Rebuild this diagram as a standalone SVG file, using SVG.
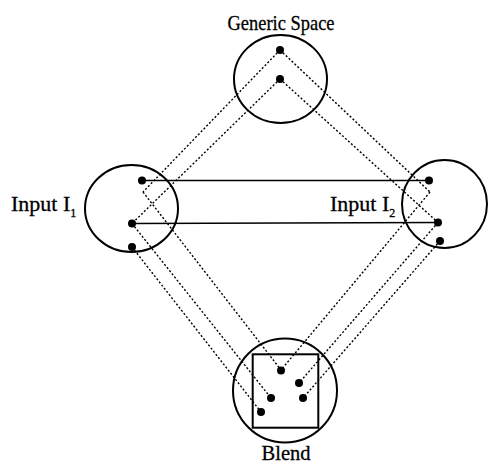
<svg xmlns="http://www.w3.org/2000/svg" width="488" height="465" viewBox="0 0 488 465">
<style>
.ring{fill:none;stroke:#000;stroke-width:2}
.dot{fill:#000}
.solid{stroke:#000;stroke-width:1.6;fill:none}
.dotted{stroke:#000;stroke-width:1.4;stroke-dasharray:2 2;fill:none}
.lbl{font-family:"Liberation Serif","Times New Roman",serif;font-size:22px;fill:#000;stroke:#000;stroke-width:0.3}
.sub{font-size:12px}
</style>
<rect width="488" height="465" fill="#fff"/>
<g id="connectors">
<line class="solid" x1="142" y1="180.5" x2="429" y2="180.5"/>
<line class="solid" x1="132" y1="223.5" x2="438" y2="222.5"/>
<line class="dotted" x1="280" y1="50" x2="143" y2="192"/>
<line class="dotted" x1="143" y1="192" x2="281" y2="370"/>
<line class="dotted" x1="280" y1="50" x2="430" y2="192"/>
<line class="dotted" x1="430" y1="192" x2="281" y2="370"/>
<line class="dotted" x1="280" y1="79" x2="132" y2="223.5"/>
<line class="dotted" x1="280" y1="79" x2="438" y2="222.5"/>
<line class="dotted" x1="132" y1="223.5" x2="271" y2="398"/>
<line class="dotted" x1="132" y1="247" x2="261" y2="412"/>
<line class="dotted" x1="438" y1="222.5" x2="299" y2="383"/>
<line class="dotted" x1="440" y1="241" x2="303" y2="398"/>
</g>
<g id="generic-space">
<ellipse class="ring" cx="280.5" cy="79" rx="46.5" ry="44"/>
<circle class="dot" cx="280" cy="50" r="4"/>
<circle class="dot" cx="280" cy="79" r="4"/>
<text class="lbl" x="281" y="30" text-anchor="middle" textLength="107" lengthAdjust="spacingAndGlyphs">Generic Space</text>
</g>
<g id="input-1">
<ellipse class="ring" cx="131.5" cy="208.5" rx="46.5" ry="43.5"/>
<circle class="dot" cx="142" cy="180.5" r="4"/>
<circle class="dot" cx="132" cy="223.5" r="4"/>
<circle class="dot" cx="132" cy="247" r="4"/>
<text class="lbl" x="11" y="210.5">Input I<tspan class="sub" dy="6">1</tspan></text>
</g>
<g id="input-2">
<ellipse class="ring" cx="444.5" cy="204" rx="42.5" ry="44"/>
<circle class="dot" cx="429" cy="180.5" r="4"/>
<circle class="dot" cx="438" cy="222.5" r="4"/>
<circle class="dot" cx="440" cy="241" r="4"/>
<text class="lbl" x="330" y="210.5">Input I<tspan class="sub" dy="6">2</tspan></text>
</g>
<g id="blend">
<circle class="ring" cx="285" cy="390.5" r="52"/>
<rect class="ring" x="252.7" y="354.3" width="65.6" height="73.4"/>
<circle class="dot" cx="281" cy="370.5" r="4"/>
<circle class="dot" cx="299" cy="383" r="4"/>
<circle class="dot" cx="271" cy="398" r="4"/>
<circle class="dot" cx="303" cy="398" r="4"/>
<circle class="dot" cx="261" cy="412" r="4"/>
<text class="lbl" x="286" y="460" text-anchor="middle" textLength="49" lengthAdjust="spacingAndGlyphs">Blend</text>
</g>
</svg>
